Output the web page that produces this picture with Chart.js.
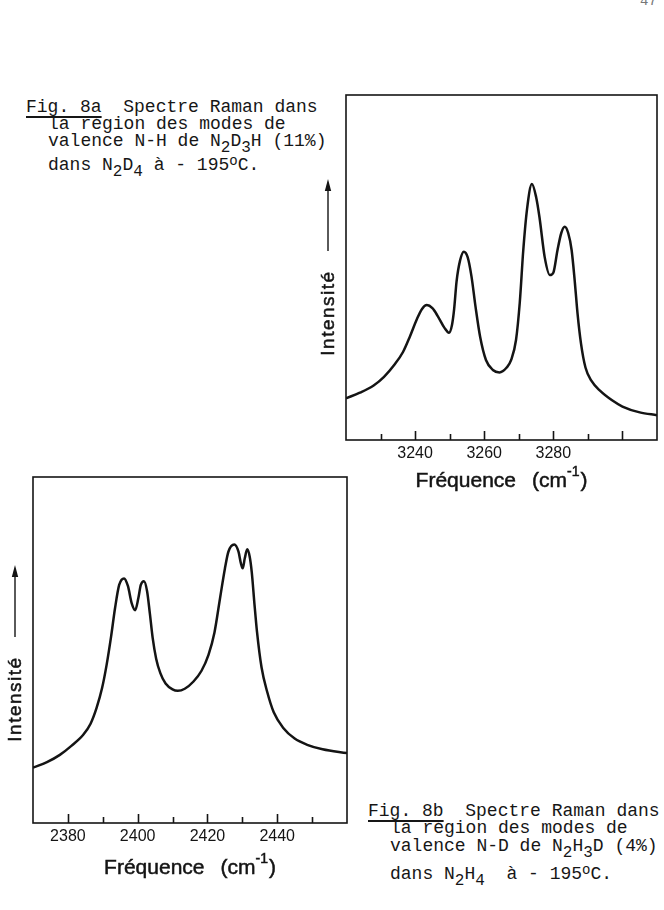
<!DOCTYPE html>
<html lang="fr">
<head>
<meta charset="utf-8">
<script src="https://cdn.jsdelivr.net/npm/chart.js@4.4.1/dist/chart.umd.min.js"></script>
<style>
  body { margin: 0; background: #fff; }
  #page { position: relative; width: 664px; height: 910px; overflow: hidden; background: #fff; }
  canvas { position: absolute; }
  .legende { position: absolute; font-family: "Liberation Mono", "DejaVu Sans Mono", monospace;
             font-size: 18px; line-height: 18px; color: #161616; white-space: pre; }
  .legende u { text-underline-offset: 4px; text-decoration-thickness: 1.5px; }
  .ind { position: relative; top: 6px; font-size: 16px; }
  .exp { position: relative; top: -5px; font-size: 14px; }
  #numero { position: absolute; left: 640px; top: -7px; font-family: "Liberation Mono", monospace;
            font-size: 14px; color: #777; }
</style>
</head>
<body>
<div id="page">
  <div id="numero">47</div>

  <div class="legende" style="left:26px;top:98px"><u>Fig. 8a</u>  Spectre Raman dans</div>
  <div class="legende" style="left:48px;top:115px">la région des modes de</div>
  <div class="legende" style="left:48px;top:132px">valence N-H de N<span class="ind">2</span>D<span class="ind">3</span>H (11%)</div>
  <div class="legende" style="left:48px;top:156px">dans N<span class="ind">2</span>D<span class="ind">4</span> à - 195<span class="exp">o</span>C.</div>

  <div class="legende" style="left:368px;top:802px"><u>Fig. 8b</u>  Spectre Raman dans</div>
  <div class="legende" style="left:390px;top:819px">la région des modes de</div>
  <div class="legende" style="left:390px;top:837px">valence N-D de N<span class="ind">2</span>H<span class="ind">3</span>D (4%)</div>
  <div class="legende" style="left:390px;top:865px">dans N<span class="ind">2</span>H<span class="ind">4</span>  à - 195<span class="exp">o</span>C.</div>

  <canvas id="spectreA" width="345" height="401" style="left:314px;top:93px"></canvas>
  <canvas id="spectreB" width="348" height="407" style="left:1px;top:475px"></canvas>
</div>

<script>
// Fig. 8a : N-H, N2D3H dans N2D4
const frequencesA = [3220, 3224, 3228, 3231, 3234, 3236.5, 3238.5, 3240.5, 3242, 3243.4,
  3245, 3246.5, 3248.5, 3249.8, 3250.7, 3251.3, 3252, 3253, 3254.1, 3255.2,
  3256.3, 3257.5, 3258.8, 3260.5, 3262.5, 3264.4, 3266.5, 3267.8, 3269.2, 3270.3,
  3271.3, 3272.4, 3273.8, 3275, 3276, 3277.5, 3279, 3280, 3281.2, 3282.3,
  3283.3, 3284.3, 3285.3, 3286.2, 3287, 3288, 3289.3, 3291, 3293.5, 3297,
  3300, 3305, 3310];
const intensitesA = [12.1, 13.7, 15.8, 18.3, 21.8, 25.5, 30, 35, 38, 39.1,
  38.2, 36, 32.5, 31.1, 33.5, 38, 46, 52, 54.6, 53,
  47.5, 38.5, 30, 23.2, 20.3, 19.6, 21, 23.2, 29, 40,
  55, 67, 74.2, 70.5, 64.5, 53, 47.8, 48.5, 55, 60,
  61.8, 60, 55, 46, 36.7, 28, 21, 17.2, 14.3, 11.5,
  9.7, 8, 7.2];
const etiquettesA = [3240, 3260, 3280];

// Fig. 8b : N-D, N2H3D dans N2H4
const frequencesB = [2370, 2374, 2377.7, 2381, 2384.4, 2386.5, 2388.2, 2389.8, 2391.1, 2392.4,
  2393.5, 2394.7, 2396.1, 2397.2, 2398.3, 2399.3, 2400.2, 2400.9, 2401.8, 2402.7,
  2403.5, 2404.3, 2405.3, 2406.5, 2408, 2410, 2411.5, 2413.5, 2416, 2418.3,
  2420.3, 2422, 2423.6, 2425, 2426, 2427.7, 2428.9, 2429.6, 2430.1, 2430.7,
  2431.4, 2432.1, 2432.7, 2433.5, 2434.2, 2435.5, 2437.1, 2439, 2441.8, 2445,
  2448.6, 2453, 2460];
const intensitesB = [16.0, 17.6, 19.7, 22.3, 25.5, 28.7, 33.2, 39, 45.7, 54,
  62, 68.8, 70.7, 68.5, 63.5, 61.5, 65, 68.8, 69.9, 67,
  60.5, 53.5, 47.5, 43.3, 40.3, 38.6, 38.2, 38.8, 40.9, 44,
  48.6, 55, 64.9, 73.5, 78.4, 80.5, 78.4, 75, 73.6, 76.5,
  79.1, 77, 72.5, 63, 55.3, 45, 38, 32, 27.4, 24.4,
  22.6, 21.3, 20.2];
const etiquettesB = [2380, 2400, 2420, 2440];

const encre = '#141414';

function texteGras(ctx, txt, x, y) {
  ctx.fillText(txt, x, y);
  ctx.strokeText(txt, x, y);
}

// cadre, graduations internes, titres d'axes
const cadre = {
  id: 'cadre',
  afterDraw(chart, args, opts) {
    const { ctx, chartArea: a, scales: { x } } = chart;
    ctx.save();
    ctx.strokeStyle = encre;
    ctx.fillStyle = encre;
    ctx.lineWidth = 1.6;
    ctx.strokeRect(a.left, a.top, a.right - a.left, a.bottom - a.top);

    x.ticks.forEach(t => {
      if (t.value <= x.min || t.value >= x.max) return;
      const px = Math.round(x.getPixelForValue(t.value)) + 0.5;
      const long = t.value % 20 === 0 ? 9 : 6;
      ctx.beginPath();
      ctx.moveTo(px, a.bottom);
      ctx.lineTo(px, a.bottom - long);
      ctx.stroke();
    });

    // Fréquence (cm-1)
    const cx = (a.left + a.right) / 2;
    const cy = a.bottom + opts.decalageTitre;
    ctx.textBaseline = 'middle';
    ctx.textAlign = 'left';
    ctx.lineWidth = 0.5;
    const grand = '21px "Liberation Sans", Arial, sans-serif';
    const petit = '14px "Liberation Sans", Arial, sans-serif';
    ctx.font = grand;
    const w1 = ctx.measureText('Fréquence').width;
    const w2 = ctx.measureText('(cm').width;
    const w4 = ctx.measureText(')').width;
    ctx.font = petit;
    const w3 = ctx.measureText('-1').width + 1;
    const ecart = 16;
    let px = cx - (w1 + ecart + w2 + w3 + w4) / 2;
    ctx.font = grand;
    texteGras(ctx, 'Fréquence', px, cy);
    px += w1 + ecart;
    texteGras(ctx, '(cm', px, cy);
    px += w2;
    ctx.font = petit;
    texteGras(ctx, '-1', px, cy - 9);
    px += w3;
    ctx.font = grand;
    texteGras(ctx, ')', px, cy);

    // Intensité ---->
    ctx.translate(a.left - 18, a.top + opts.centreIntensite);
    ctx.rotate(-Math.PI / 2);
    ctx.font = '19px "Liberation Sans", Arial, sans-serif';
    ctx.letterSpacing = '1.5px';
    ctx.textAlign = 'center';
    texteGras(ctx, 'Intensité', 0, 1);
    ctx.lineWidth = 1.4;
    ctx.beginPath();
    ctx.moveTo(62, 0);
    ctx.lineTo(124, 0);
    ctx.stroke();
    ctx.beginPath();
    ctx.moveTo(134, 0);
    ctx.lineTo(122, -3.2);
    ctx.lineTo(122, 3.2);
    ctx.closePath();
    ctx.fill();
    ctx.restore();
  }
};

function tracerSpectre(id, frequences, intensites, etiquettes, min, max, decalageTitre, centreIntensite, padBas) {
  new Chart(document.getElementById(id), {
    type: 'line',
    data: {
      datasets: [{
        data: frequences.map((f, i) => ({ x: f, y: intensites[i] })),
        borderColor: encre,
        borderWidth: 2.5,
        pointRadius: 0,
        cubicInterpolationMode: 'monotone',
        fill: false
      }]
    },
    options: {
      responsive: false,
      animation: false,
      layout: { autoPadding: false, padding: { left: 32, top: 2, right: 2, bottom: padBas } },
      plugins: {
        legend: { display: false },
        tooltip: { enabled: false },
        cadre: { decalageTitre, centreIntensite }
      },
      scales: {
        x: {
          type: 'linear',
          min: min,
          max: max,
          grid: { display: false, drawTicks: false },
          border: { display: false },
          afterFit: s => {
            s.height = 26;
            s.paddingLeft = 0;
            s.paddingRight = 0;
          },
          ticks: {
            stepSize: 10,
            autoSkip: false,
            maxRotation: 0,
            padding: 4,
            color: encre,
            font: { family: '"Liberation Sans", Arial, sans-serif', size: 16 },
            callback: v => etiquettes.includes(v) ? String(v) : ''
          }
        },
        y: { display: false, min: 0, max: 100 }
      }
    },
    plugins: [cadre]
  });
}

tracerSpectre('spectreA', frequencesA, intensitesA, etiquettesA, 3220, 3310, 41, 218, 28);
tracerSpectre('spectreB', frequencesB, intensitesB, etiquettesB, 2370, 2460, 45, 222, 33);
</script>
</body>
</html>
